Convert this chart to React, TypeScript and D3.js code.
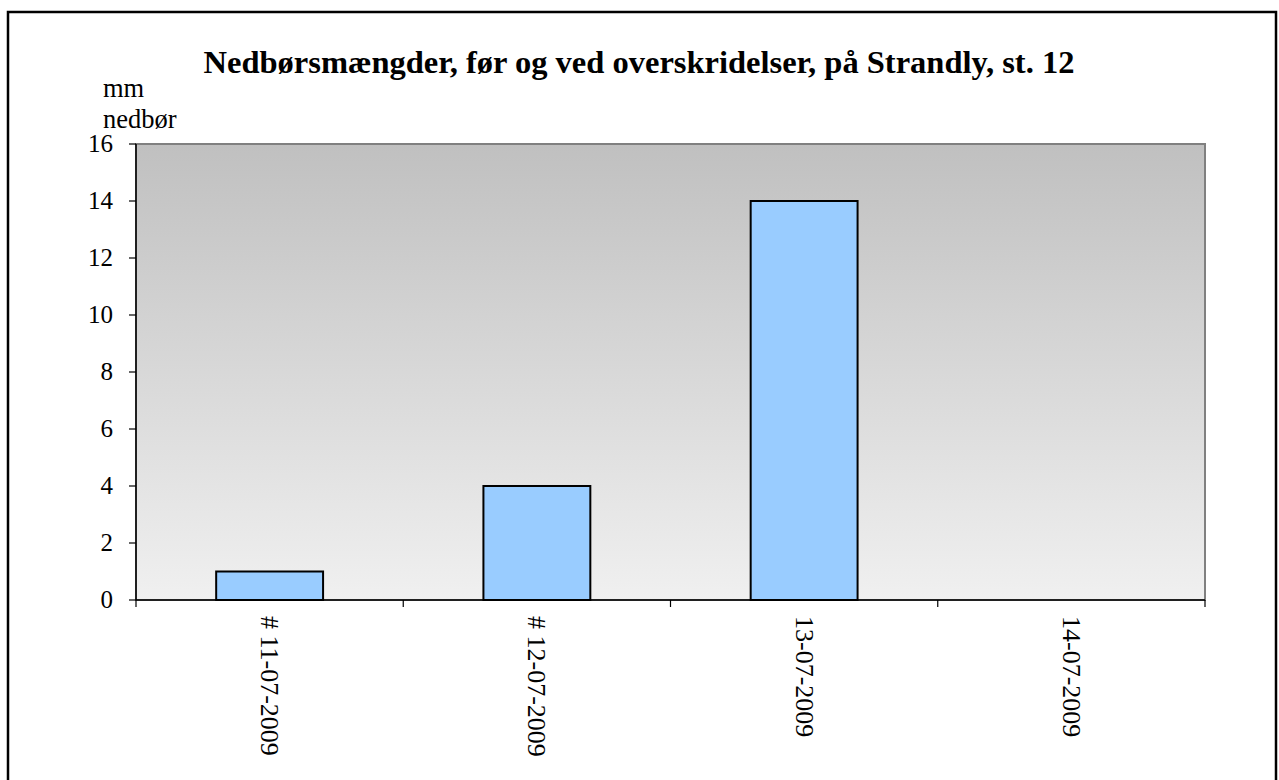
import * as d3 from 'd3'

const categories = ['# 11-07-2009', '# 12-07-2009', '13-07-2009', '14-07-2009']
const values = [1, 4, 14, 0]
const yTicks = [0, 2, 4, 6, 8, 10, 12, 14, 16]

const title = 'Nedbørsmængder, før og ved overskridelser, på Strandly, st. 12'
const font = '"Liberation Serif", "Times New Roman", serif'

const txt = (size: number, bold = false) => ({
  fontFamily: font,
  fontSize: `${size}px`,
  fontWeight: bold ? 'bold' : 'normal',
  fill: '#000',
})

export default function App() {
  const width = 1279
  const height = 780
  const plot = { left: 136, right: 1205, top: 144, bottom: 600 }

  const x = d3
    .scaleBand<string>()
    .domain(categories)
    .range([plot.left, plot.right])
    .paddingInner(0)
    .paddingOuter(0)

  const y = d3.scaleLinear().domain([0, 16]).range([plot.bottom, plot.top])

  const barW = x.bandwidth() * 0.4
  const boundaries = categories.map(c => x(c)!).concat([plot.right])

  return (
    <svg
      width={width}
      height={height}
      style={{ position: 'absolute', left: 0, top: 0, fontFamily: font }}
    >
      <defs>
        <linearGradient id="bg" x1="0" y1="0" x2="0" y2="1">
          <stop offset="0%" stopColor="#c0c0c0" />
          <stop offset="100%" stopColor="#f0f0f0" />
        </linearGradient>
      </defs>
      <rect width={width} height={height} fill="#fff" />
      {/* outer frame */}
      <rect x={8} y={12} width={1268} height={800} fill="none" stroke="#000" strokeWidth={2.5} />

      <text x={639} y={73} textAnchor="middle" style={txt(32.5, true)}>
        {title}
      </text>
      <text x={103} y={97} style={txt(26.5)}>mm</text>
      <text x={103} y={128} style={txt(26.5)}>nedbør</text>

      {/* plot area */}
      <rect
        x={plot.left}
        y={plot.top}
        width={plot.right - plot.left}
        height={plot.bottom - plot.top}
        fill="url(#bg)"
        stroke="#808080"
        strokeWidth={2}
      />

      {categories.map((c, i) => (
        <rect
          key={c}
          x={x(c)! + (x.bandwidth() - barW) / 2}
          y={y(values[i])}
          width={barW}
          height={plot.bottom - y(values[i])}
          fill="#99ccff"
          stroke="#000"
          strokeWidth={2}
        />
      ))}

      {/* y axis */}
      <line x1={plot.left} x2={plot.left} y1={plot.top} y2={plot.bottom} stroke="#000" strokeWidth={1.5} />
      {yTicks.map(t => (
        <g key={t}>
          <line x1={plot.left - 7} x2={plot.left} y1={y(t)} y2={y(t)} stroke="#000" strokeWidth={1.2} />
          <text x={113} y={y(t) + 8} textAnchor="end" style={txt(25)}>
            {t}
          </text>
        </g>
      ))}

      {/* x axis */}
      <line x1={plot.left} x2={plot.right} y1={plot.bottom} y2={plot.bottom} stroke="#000" strokeWidth={1.5} />
      {boundaries.map((b, i) => (
        <line key={i} x1={b} x2={b} y1={plot.bottom} y2={plot.bottom + 7} stroke="#000" strokeWidth={1.2} />
      ))}
      {categories.map(c => {
        const cx = x(c)! + x.bandwidth() / 2
        return (
          <text
            key={c}
            transform={`translate(${cx - 8.5},616) rotate(90)`}
            style={txt(26)}
          >
            {c}
          </text>
        )
      })}
    </svg>
  )
}
